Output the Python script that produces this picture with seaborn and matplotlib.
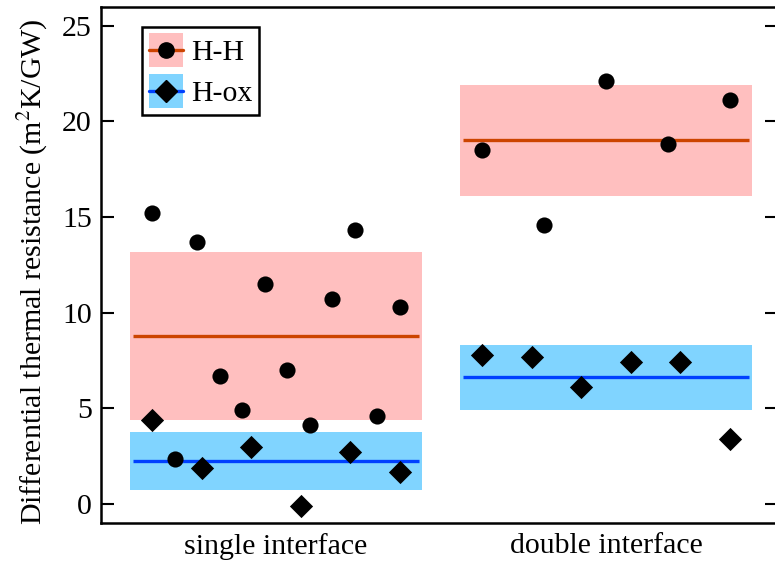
import numpy as np
import pandas as pd
import matplotlib
matplotlib.use("Agg")
import matplotlib.pyplot as plt
import seaborn as sns
from matplotlib.patches import Patch
from matplotlib.lines import Line2D
from matplotlib.legend_handler import HandlerLine2D

# Measured differential thermal resistances (m^2K/GW)
categories = ["single interface", "double interface"]
samples = ["H-H", "H-ox"]
hh_single = [15.2, 2.35, 13.7, 6.7, 4.9, 11.5, 7.0, 4.1, 10.7, 14.3, 4.6, 10.3]
hox_single = [4.4, 1.9, 3.0, -0.1, 2.7, 1.65]
hh_double = [18.5, 14.6, 22.1, 18.8, 21.1]
hox_double = [7.8, 7.7, 6.1, 7.4, 7.4, 3.4]
yticks = [0, 5, 10, 15, 20, 25]

fill_colors = {"H-H": "#FFBFBF", "H-ox": "#80D4FF"}
line_colors = {"H-H": "#CC4400", "H-ox": "#0040FF"}
markers = {"H-H": "o", "H-ox": "D"}
marker_area = {"H-H": 135, "H-ox": 140}
legend_ms = {"H-H": 11, "H-ox": 11.7}

FS = 21.5

sns.set_style("ticks")
plt.rcParams["font.family"] = ["Liberation Serif", "DejaVu Serif"]
plt.rcParams["mathtext.fontset"] = "stix"
for key in ("text.color", "axes.labelcolor", "xtick.color", "ytick.color",
            "axes.edgecolor"):
    plt.rcParams[key] = "black"

series = {
    ("single interface", "H-H"): hh_single,
    ("single interface", "H-ox"): hox_single,
    ("double interface", "H-H"): hh_double,
    ("double interface", "H-ox"): hox_double,
}

# long-form table; points of each group are spread evenly across its category slot
rows = []
for ci, cat in enumerate(categories):
    for s in samples:
        vals = series[(cat, s)]
        offs = np.linspace(-0.375, 0.375, len(vals))
        for o, v in zip(offs, vals):
            rows.append({"category": cat, "sample": s, "x": ci + o, "value": v})
df = pd.DataFrame(rows)

fig = plt.figure(figsize=(7.75, 5.63), dpi=100)
ax = fig.add_axes([101 / 775, 40 / 563, 677 / 775, 516.3 / 563])

# mean +/- standard deviation band with mean line
half = 0.442
stats = df.groupby(["category", "sample"])["value"].agg(["mean", "std"])
for ci, cat in enumerate(categories):
    for s in samples:
        m, sd = stats.loc[(cat, s), "mean"], stats.loc[(cat, s), "std"]
        ax.fill_between([ci - half, ci + half], m - sd, m + sd,
                        color=fill_colors[s], lw=0, zorder=1)
        ax.hlines(m, ci - half + 0.008, ci + half - 0.008,
                  color=line_colors[s], lw=2.4, zorder=2)

for s in samples:
    sub = df[df["sample"] == s]
    sns.scatterplot(data=sub, x="x", y="value", marker=markers[s],
                    s=marker_area[s], color="black", edgecolor="black",
                    linewidth=0, ax=ax, zorder=3, legend=False)


class CenteredLine(HandlerLine2D):
    """Legend line drawn through the vertical middle of the handle box."""

    def create_artists(self, legend, orig_handle, xdescent, ydescent,
                       width, height, fontsize, trans):
        arts = super().create_artists(legend, orig_handle, xdescent, ydescent,
                                      width, height, fontsize, trans)
        yc = height / 2 - ydescent
        for a in arts:
            a.set_ydata(np.full(len(a.get_xdata()), yc))
        return arts


handles = [
    (Patch(facecolor=fill_colors[s], edgecolor="none"),
     Line2D([], [], color=line_colors[s], lw=2.4, marker=markers[s],
            markersize=legend_ms[s],
            markerfacecolor="black", markeredgecolor="black"))
    for s in samples
]
leg = ax.legend(handles, samples, loc="upper left",
                bbox_to_anchor=(41 / 677, 1 - 20 / 516.3), borderaxespad=0,
                handlelength=1.14, handleheight=1.37, handletextpad=0.27,
                labelspacing=0.24, borderpad=0.22, fontsize=FS,
                frameon=True, fancybox=False, edgecolor="black", framealpha=1,
                handler_map={Line2D: CenteredLine()})
leg.get_frame().set_linewidth(1.8)

ax.set_xlim(-0.530, 1.521)
ax.set_ylim(-1, 26)
ax.set_xticks([0, 1])
ax.set_xticklabels(categories)
ax.set_yticks(yticks)
ax.tick_params(axis="x", length=0, pad=7, labelsize=FS)
ax.tick_params(axis="y", direction="in", length=9.6, width=1.5,
               left=True, right=True, labelsize=FS, pad=6.5)
for sp in ax.spines.values():
    sp.set_linewidth(1.8)
    sp.set_color("black")

ax.set_xlabel("")
ax.set_ylabel("Differential thermal resistance (m$^2$K/GW)", fontsize=FS)
ax.yaxis.set_label_coords(-0.076, 0.486)

fig.savefig("out.png", dpi=100)
